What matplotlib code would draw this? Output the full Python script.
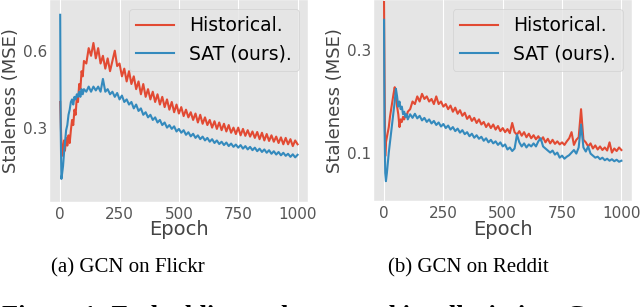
import numpy as np
from matplotlib import pyplot as plt

plt.style.use('ggplot')

# epochs shared by all curves
early_ep = [0, 2, 5, 8, 12, 16, 20, 25, 30, 35, 40, 45, 50, 55, 60, 65, 70, 75, 80, 85, 90, 95, 100]
epochs = np.array(early_ep + list(range(110, 1001, 10)))

# GCN on Flickr
flickr_hist = [0.40, 0.33, 0.24, 0.19, 0.22, 0.25, 0.21, 0.26, 0.23, 0.27, 0.24, 0.29, 0.33, 0.31, 0.37, 0.35,
               0.42, 0.40, 0.47, 0.45, 0.52, 0.50, 0.56,
               0.55, 0.61, 0.58, 0.63, 0.57, 0.61, 0.55, 0.58, 0.53, 0.57, 0.52, 0.56, 0.60, 0.54, 0.55, 0.50,
               0.53, 0.48, 0.52, 0.47, 0.50, 0.45, 0.48, 0.43, 0.47, 0.42, 0.45, 0.41, 0.44, 0.40, 0.43, 0.39,
               0.42, 0.38, 0.41, 0.37, 0.40, 0.36, 0.39, 0.355, 0.38, 0.345, 0.37, 0.34, 0.36, 0.33, 0.355, 0.32,
               0.35, 0.315, 0.34, 0.31, 0.33, 0.30, 0.325, 0.295, 0.32, 0.29, 0.315, 0.285, 0.31, 0.28, 0.30, 0.275,
               0.30, 0.27, 0.295, 0.268, 0.29, 0.265, 0.285, 0.26, 0.283, 0.255, 0.28, 0.25, 0.275, 0.248, 0.27,
               0.245, 0.265, 0.24, 0.262, 0.235, 0.26, 0.235, 0.255, 0.228, 0.25, 0.235]
flickr_sat = [0.74, 0.30, 0.10, 0.12, 0.15, 0.20, 0.24, 0.29, 0.31, 0.35, 0.37, 0.40, 0.41, 0.39, 0.42, 0.41,
              0.43, 0.42, 0.44, 0.42, 0.45, 0.43, 0.45,
              0.44, 0.46, 0.44, 0.46, 0.445, 0.46, 0.44, 0.49, 0.44, 0.45, 0.43, 0.44, 0.42, 0.435, 0.41, 0.425,
              0.40, 0.41, 0.39, 0.40, 0.375, 0.39, 0.365, 0.375, 0.35, 0.36, 0.34, 0.35, 0.33, 0.34, 0.32, 0.33,
              0.31, 0.32, 0.30, 0.31, 0.295, 0.305, 0.285, 0.295, 0.28, 0.29, 0.272, 0.282, 0.266, 0.276, 0.26,
              0.27, 0.255, 0.265, 0.25, 0.26, 0.245, 0.255, 0.24, 0.25, 0.236, 0.245, 0.232, 0.242, 0.228, 0.238,
              0.225, 0.234, 0.222, 0.232, 0.218, 0.228, 0.215, 0.225, 0.212, 0.222, 0.208, 0.218, 0.205, 0.215,
              0.202, 0.212, 0.198, 0.208, 0.195, 0.205, 0.192, 0.202, 0.19, 0.198, 0.186, 0.196, 0.184, 0.194]

# GCN on Reddit
reddit_hist = [0.395, 0.25, 0.093, 0.12, 0.13, 0.14, 0.15, 0.17, 0.185, 0.20, 0.215, 0.228, 0.21, 0.19, 0.175,
               0.15, 0.165, 0.16, 0.17, 0.165, 0.175, 0.17, 0.18,
               0.185, 0.20, 0.195, 0.21, 0.20, 0.215, 0.205, 0.21, 0.20, 0.205, 0.195, 0.21, 0.195, 0.20, 0.19,
               0.195, 0.185, 0.192, 0.18, 0.188, 0.176, 0.183, 0.172, 0.178, 0.166, 0.172, 0.162, 0.168, 0.158,
               0.165, 0.155, 0.16, 0.15, 0.157, 0.148, 0.155, 0.145, 0.152, 0.142, 0.148, 0.14, 0.146, 0.138,
               0.158, 0.14, 0.135, 0.142, 0.133, 0.14, 0.13, 0.137, 0.128, 0.134, 0.126, 0.132, 0.124, 0.13, 0.12,
               0.127, 0.118, 0.125, 0.117, 0.122, 0.116, 0.12, 0.115, 0.122, 0.128, 0.14, 0.115, 0.125, 0.13,
               0.185, 0.125, 0.12, 0.112, 0.118, 0.108, 0.114, 0.106, 0.112, 0.105, 0.11, 0.104, 0.12, 0.10,
               0.108, 0.103, 0.11, 0.105]
reddit_sat = [0.36, 0.15, 0.06, 0.044, 0.06, 0.08, 0.10, 0.12, 0.14, 0.16, 0.18, 0.20, 0.225, 0.21, 0.19, 0.20,
              0.185, 0.19, 0.175, 0.18, 0.17, 0.175, 0.165,
              0.175, 0.168, 0.176, 0.167, 0.172, 0.163, 0.168, 0.16, 0.165, 0.157, 0.162, 0.154, 0.159, 0.151,
              0.156, 0.148, 0.153, 0.145, 0.15, 0.142, 0.147, 0.139, 0.144, 0.136, 0.14, 0.132, 0.137, 0.129,
              0.134, 0.127, 0.131, 0.123, 0.128, 0.12, 0.125, 0.118, 0.122, 0.115, 0.12, 0.112, 0.116, 0.106,
              0.11, 0.103, 0.108, 0.135, 0.12, 0.112, 0.118, 0.11, 0.116, 0.112, 0.118, 0.112, 0.122, 0.128,
              0.112, 0.108, 0.104, 0.10, 0.104, 0.096, 0.10, 0.09, 0.094, 0.088, 0.092, 0.095, 0.10, 0.105,
              0.098, 0.11, 0.155, 0.11, 0.102, 0.112, 0.098, 0.094, 0.09, 0.092, 0.087, 0.09, 0.085, 0.088,
              0.084, 0.087, 0.083, 0.086, 0.082, 0.084]

panels = [
	(flickr_hist, flickr_sat, [0.3, 0.6], (0.01, 0.80), '(a) GCN on Flickr'),
	(reddit_hist, reddit_sat, [0.1, 0.3], (0.005, 0.40), '(b) GCN on Reddit'),
]
positions = [[0.077, 0.342, 0.405, 0.66], [0.583, 0.345, 0.405, 0.657]]
caption_x = [0.2, 0.732]

fig = plt.figure(figsize=(6.4, 3.07), dpi=100)

for i in range(2):
	hist, sat, yticks, ylim, caption = panels[i]
	ax = fig.add_axes(positions[i])
	ax.plot(epochs, hist, color='#E24A33', lw=1.5, label='Historical.')
	ax.plot(epochs, sat, color='#348ABD', lw=1.5, label='SAT (ours).')
	ax.set_xlim(-46, 1046)
	ax.set_ylim(*ylim)
	ax.set_xticks([0, 250, 500, 750, 1000])
	ax.set_yticks(yticks)
	ax.tick_params(labelsize=11, colors='#555555', length=0)
	ax.tick_params(axis='y', pad=1.5)
	ax.grid(axis='y', visible=False)
	ax.grid(axis='x', color='white', lw=0.8)
	ax.set_xlabel('Epoch', fontsize=14, color='#444444', labelpad=-1)
	ax.set_ylabel('Staleness (MSE)', fontsize=13, color='#444444', labelpad=2)
	ax.legend(loc='upper right', fontsize=13.5, handlelength=2.0)
	fig.text(caption_x[i], 0.127, caption, ha='center', va='center',
	         fontsize=15, family='Liberation Serif')

# caption line cut off by the bottom edge, as in the source
fig.text(0.003, -0.051, 'Figure 1: Embedding staleness and its alleviation. Com', ha='left', va='baseline',
         fontsize=19, family='Liberation Serif', weight='bold')

plt.savefig('out.png', dpi=100)
